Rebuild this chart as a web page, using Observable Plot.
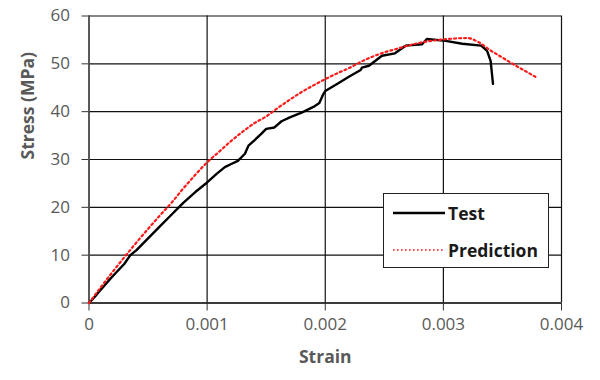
<!DOCTYPE html>
<html>
<head>
<meta charset="utf-8">
<script src="https://cdn.jsdelivr.net/npm/d3@7"></script>
<script src="https://cdn.jsdelivr.net/npm/@observablehq/plot@0.6"></script>
<style>
  html, body { margin: 0; padding: 0; background: #fff; }
  #wrap { position: relative; width: 600px; height: 380px; }
  #legend {
    position: absolute; left: 383px; top: 193px; width: 166px; height: 75px;
    background: #fff; border: 1.6px solid #222; box-sizing: border-box;
    font-family: "Open Sans", sans-serif; font-weight: bold; font-size: 17.5px; color: #1a1a1a;
  }
  .row { position: absolute; left: 8px; display: flex; align-items: center; }
  .row svg { margin-right: 2px; }
</style>
</head>
<body>
<div id="wrap"></div>
<script>
// ---- data ----
const testStrain = [0, 0.00005, 0.0001, 0.0002, 0.0003, 0.00035, 0.0004, 0.0005, 0.0006, 0.0007, 0.00076, 0.0008, 0.0009, 0.001, 0.00108, 0.00115, 0.0012, 0.00126, 0.00132, 0.00135, 0.0014, 0.00146, 0.0015, 0.00157, 0.00163, 0.0017, 0.0018, 0.0019, 0.00195, 0.00198, 0.002, 0.0021, 0.0022, 0.0023, 0.00231, 0.00237, 0.00248, 0.00259, 0.00268, 0.00282, 0.00286, 0.00302, 0.00316, 0.00332, 0.00337, 0.0034, 0.00342];
const testStress = [0, 1.3, 2.8, 5.6, 8.2, 10.0, 11.0, 13.5, 16.0, 18.5, 20.0, 21.0, 23.2, 25.2, 27.0, 28.4, 29.0, 29.7, 31.2, 32.9, 34.0, 35.4, 36.4, 36.7, 38.0, 38.8, 39.8, 41.0, 41.8, 43.5, 44.3, 45.8, 47.3, 48.7, 49.2, 49.6, 51.7, 52.2, 53.8, 54.1, 55.2, 54.8, 54.2, 53.8, 52.7, 50.6, 45.8];

const predStrain = [0, 0.0001, 0.0002, 0.0003, 0.0004, 0.0005, 0.0006, 0.0007, 0.0008, 0.0009, 0.001, 0.0011, 0.0012, 0.0013, 0.0014, 0.0015, 0.0016, 0.0017, 0.0018, 0.0019, 0.002, 0.0021, 0.0022, 0.0023, 0.0024, 0.0025, 0.0026, 0.0027, 0.0028, 0.0029, 0.003, 0.0031, 0.0032, 0.0033, 0.0034, 0.0035, 0.0036, 0.0037, 0.0038];
const predStress = [0, 3.3, 6.5, 9.6, 12.6, 15.5, 18.3, 21.0, 24.0, 26.8, 29.4, 31.6, 33.8, 35.8, 37.6, 39.0, 40.8, 42.5, 44.1, 45.5, 46.8, 48.0, 49.1, 50.4, 51.5, 52.4, 53.1, 53.8, 54.4, 54.8, 55.1, 55.3, 55.4, 54.5, 52.8, 51.3, 49.8, 48.4, 47.0];

const xTicks = [0, 0.001, 0.002, 0.003, 0.004];
const yTicks = [0, 10, 20, 30, 40, 50, 60];
const seriesNames = ["Test", "Prediction"];
const xTitle = "Strain";
const yTitle = "Stress (MPa)";

const test = testStrain.map((s, i) => ({x: s, y: testStress[i]}));
const pred = predStrain.map((s, i) => ({x: s, y: predStress[i]}));

const chart = Plot.plot({
  width: 600,
  height: 380,
  marginLeft: 88.5,
  marginRight: 39,
  marginTop: 15.5,
  marginBottom: 77.5,
  style: {fontFamily: "Open Sans, sans-serif", fontSize: "17px", background: "#fff"},
  x: {domain: [0, 0.004]},
  y: {domain: [0, 60]},
  marks: [
    Plot.gridX(xTicks, {stroke: "#111", strokeOpacity: 1, strokeWidth: 1.2}),
    Plot.gridY(yTicks, {stroke: "#111", strokeOpacity: 1, strokeWidth: 1.2}),
    Plot.axisX(xTicks, {tickSize: 8, tickPadding: 7, stroke: "#333", fill: "#595959", tickFormat: d => d === 0 ? "0" : d3.format(".3f")(d), label: null}),
    Plot.axisY(yTicks, {tickSize: 7, tickPadding: 12, stroke: "#333", fill: "#595959", label: null}),
    Plot.ruleX([0], {stroke: "#555", strokeWidth: 1.6}),
    Plot.ruleY([0], {stroke: "#222", strokeWidth: 1.4}),
    Plot.line(test, {x: "x", y: "y", stroke: "#000", strokeWidth: 2.4, curve: "linear"}),
    Plot.line(pred, {x: "x", y: "y", stroke: "#ff1a1a", strokeWidth: 2.2, strokeDasharray: "2,3", curve: "monotone-x"}),
    Plot.text([xTitle], {frameAnchor: "bottom", dy: 60, fontWeight: "bold", fontSize: 17.5, fill: "#595959"}),
    Plot.text([yTitle], {frameAnchor: "left", dx: -61, rotate: -90, fontWeight: "bold", fontSize: 17.5, fill: "#595959"})
  ]
});

const wrap = document.getElementById("wrap");
wrap.appendChild(chart);

const legend = document.createElement("div");
legend.id = "legend";
legend.innerHTML = `
  <div class="row" style="top:6px">
    <svg width="54" height="26"><line x1="1" x2="53" y1="13" y2="13" stroke="#000" stroke-width="2.4"/></svg>
    <span>${seriesNames[0]}</span>
  </div>
  <div class="row" style="top:43px">
    <svg width="54" height="26"><line x1="1" x2="53" y1="13" y2="13" stroke="#ff1a1a" stroke-width="1.6" stroke-dasharray="1.6,2.4"/></svg>
    <span>${seriesNames[1]}</span>
  </div>`;
wrap.appendChild(legend);
</script>
</body>
</html>
